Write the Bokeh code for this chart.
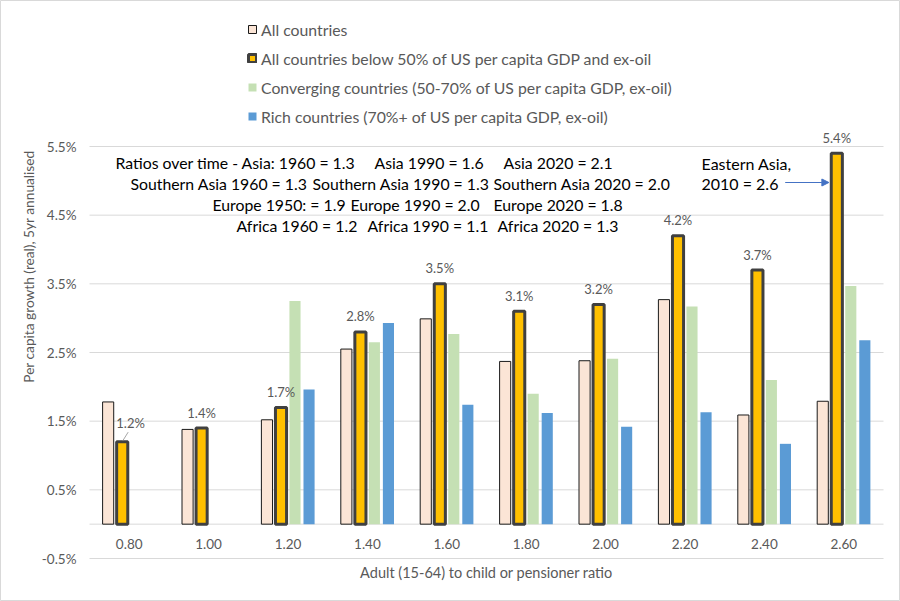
from math import pi

from bokeh.core.properties import value
from bokeh.embed import file_html
from bokeh.models import (Arrow, ColumnDataSource, Label, LabelSet, Legend, LegendItem,
                          NormalHead, Range1d)
from bokeh.plotting import figure
from bokeh.resources import INLINE

# data (per capita growth, % a year)
ratios = ["0.80", "1.00", "1.20", "1.40", "1.60", "1.80", "2.00", "2.20", "2.40", "2.60"]
all_countries = [1.78, 1.38, 1.52, 2.55, 2.99, 2.37, 2.38, 3.27, 1.59, 1.79]
below_50 = [1.2, 1.4, 1.7, 2.8, 3.5, 3.1, 3.2, 4.2, 3.7, 5.4]
converging = [None, None, 3.25, 2.65, 2.77, 1.90, 2.41, 3.17, 2.10, 3.47]
rich = [None, None, 1.96, 2.93, 1.74, 1.62, 1.42, 1.63, 1.17, 2.68]
y_ticks = [-0.5, 0.5, 1.5, 2.5, 3.5, 4.5, 5.5]

series_names = [
    "All countries",
    "All countries below 50% of US per capita GDP and ex-oil",
    "Converging countries (50-70% of US per capita GDP, ex-oil)",
    "Rich countries (70%+ of US per capita GDP, ex-oil)",
]

notes = [
    ["Ratios over time - Asia: 1960 = 1.3", "Asia 1990 = 1.6", "Asia 2020 = 2.1"],
    ["Southern Asia 1960 = 1.3", "Southern Asia 1990 = 1.3", "Southern Asia 2020 = 2.0"],
    ["Europe 1950: = 1.9", "Europe 1990 = 2.0", "Europe 2020 = 1.8"],
    ["Africa 1960 = 1.2", "Africa 1990 = 1.1", "Africa 2020 = 1.3"],
]

W, H = 900, 601
FONT = "Lato"
GREY = "#595959"
GRID = "#D9D9D9"

# the frame fills the whole canvas; these turn pixel spots into data units
X0, XS = 89, 79.4     # left edge of the plot area, pixels per category
Y0, YS = 146, 68.667  # pixel row of 5.5%, pixels per 1%


def dx(px):
    return (px - X0) / XS - 0.5


def dy(py):
    return 5.5 - (py - Y0) / YS


p = figure(width=W, height=H, x_range=Range1d(dx(0), dx(W)), y_range=Range1d(dy(H), dy(0)),
           x_axis_location=None, y_axis_location=None, min_border=0,
           output_backend="svg", toolbar_location=None)
p.grid.visible = False
p.outline_line_color = GRID

n = len(ratios)
# gridlines, zero line and y tick labels
p.segment(x0=[-0.5] * len(y_ticks), x1=[n - 0.5] * len(y_ticks), y0=y_ticks, y1=y_ticks,
          line_color=GRID, line_width=1)
p.segment(x0=[-0.5], x1=[n - 0.5], y0=[0], y1=[0], line_color=GRID, line_width=1)
p.text(x=[dx(76)] * len(y_ticks), y=y_ticks, text=[f"{t:.1f}%" for t in y_ticks],
       text_font=value(FONT), text_font_size="13.5px", text_color=GREY,
       text_align="right", text_baseline="middle")

offsets = [-0.265, -0.088, 0.088, 0.265]
bar_w = 0.14
styles = [
    dict(fill_color="#FBE5D6", line_color="#1a1a1a", line_width=1),
    dict(fill_color="#FFC000", line_color="#404040", line_width=3),
    dict(fill_color="#C5E0B4", line_color=None),
    dict(fill_color="#5B9BD5", line_color=None),
]
renderers = []
for vals, off, st in zip([all_countries, below_50, converging, rich], offsets, styles):
    xs = [i + off for i, v in enumerate(vals) if v is not None]
    tops = [v for v in vals if v is not None]
    src = ColumnDataSource(data=dict(x=xs, top=tops))
    renderers.append(p.vbar(x="x", top="top", bottom=0, width=bar_w, source=src, **st))

# category labels sit inside the plot, between 0 and -0.5
p.text(x=list(range(n)), y=[dy(543)] * n, text=ratios,
       text_font=value(FONT), text_font_size="13.5px", text_color=GREY,
       text_align="center", text_baseline="middle")

# data labels on the "below 50%" bars
lab_dx = [8.4] + [0] * 9
lab_dy = [10.5] + [7.5] * 9
lab_src = ColumnDataSource(data=dict(
    x=[i + offsets[1] for i in range(n)], y=below_50,
    text=[f"{v:.1f}%" for v in below_50], dx=lab_dx, dy=lab_dy))
p.add_layout(LabelSet(x="x", y="y", text="text", x_offset="dx", y_offset="dy", source=lab_src,
                      text_font=value(FONT), text_font_size="13px", text_color=GREY,
                      text_align="center", text_baseline="bottom"))
x0 = offsets[1] + 0.01
p.segment(x0=[x0], y0=[below_50[0] + 0.02], x1=[x0 + 0.065], y1=[below_50[0] + 0.14],
          line_color="#A6A6A6", line_width=1)

note_px = [[115, 374, 503], [130, 312, 493], [212, 350, 493], [236, 367, 497]]
note_py = [161.5, 182.7, 204, 225]
for segs, xs, py in zip(notes, note_px, note_py):
    for s, px in zip(segs, xs):
        p.add_layout(Label(x=dx(px), y=dy(py), text=s, text_font=FONT, text_font_size="15.8px",
                           text_color="black", text_align="left", text_baseline="middle"))

p.add_layout(Label(x=dx(701), y=dy(163), text="Eastern Asia,", text_font=FONT,
                   text_font_size="16px", text_color="black", text_baseline="middle"))
p.add_layout(Label(x=dx(701), y=dy(183), text="2010 = 2.6", text_font=FONT,
                   text_font_size="16px", text_color="black", text_baseline="middle"))
x_end = (n - 1) + offsets[1] - bar_w / 2 - 0.03
p.add_layout(Arrow(end=NormalHead(size=7, fill_color="#4472C4", line_color="#4472C4"),
                   x_start=x_end - 0.55, y_start=dy(182), x_end=x_end, y_end=dy(182),
                   line_color="#4472C4", line_width=1))

p.add_layout(Label(x=dx(28), y=dy(266), angle=pi / 2, text="Per capita growth (real), 5yr annualised",
                   text_font=FONT, text_font_size="13.7px", text_color=GREY,
                   text_align="center", text_baseline="middle"))
p.add_layout(Label(x=dx(486), y=dy(572), text="Adult (15-64) to child or pensioner ratio",
                   text_font=FONT, text_font_size="14.5px", text_color=GREY,
                   text_align="center", text_baseline="middle"))

legend = Legend(items=[LegendItem(label=s, renderers=[r]) for s, r in zip(series_names, renderers)],
                location=(247, H - 126), orientation="vertical", glyph_width=10, glyph_height=10,
                label_height=20, spacing=9, padding=0, margin=0, label_standoff=4,
                border_line_color=None, background_fill_alpha=0,
                label_text_font=FONT, label_text_font_size="15.8px", label_text_color=GREY)
p.add_layout(legend)

open("out.html", "w").write(file_html(p, INLINE))
